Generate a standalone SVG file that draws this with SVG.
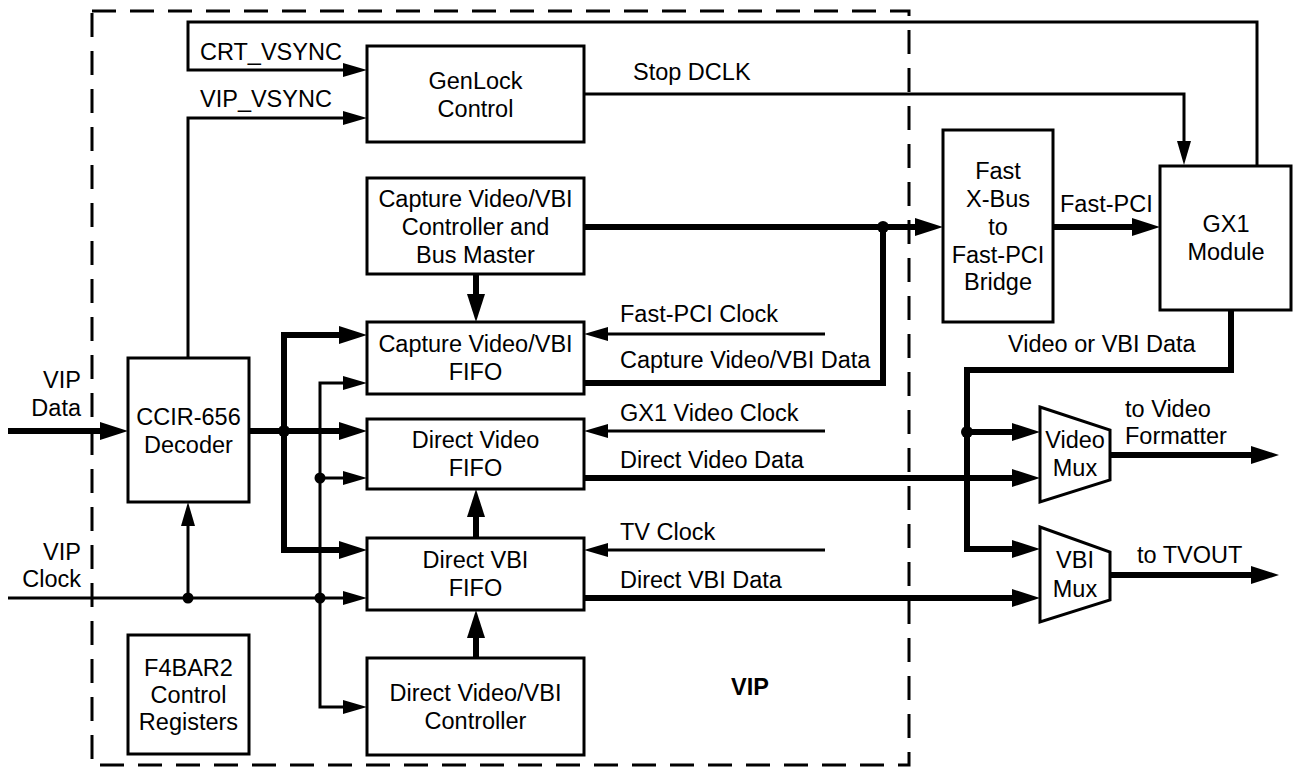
<svg xmlns="http://www.w3.org/2000/svg" width="1293" height="767" viewBox="0 0 1293 767">
<style>
text{font-family:"Liberation Sans",Arial,Helvetica,sans-serif;font-size:23.5px;fill:#000}
.c{text-anchor:middle}
.r{text-anchor:end}
.b{font-weight:bold}
.box{fill:#fff;stroke:#000;stroke-width:3}
.thin{fill:none;stroke:#000;stroke-width:3}
.thick{fill:none;stroke:#000;stroke-width:6}
.dash{fill:none;stroke:#000;stroke-width:3;stroke-dasharray:24 14}
</style>
<defs>
<marker id="at" markerUnits="userSpaceOnUse" markerWidth="24" markerHeight="14" refX="0" refY="7" orient="auto" overflow="visible"><path d="M0,0 L24,7 L0,14 z" fill="#000"/></marker>
<marker id="ak" markerUnits="userSpaceOnUse" markerWidth="28" markerHeight="18" refX="0" refY="9" orient="auto" overflow="visible"><path d="M0,0 L28,9 L0,18 z" fill="#000"/></marker>
</defs>
<rect fill="#fff" width="1293" height="767"/>
<rect id="vip-boundary" class="dash" x="92" y="11" width="817" height="754"/>
<text class="c b" x="750" y="695">VIP</text>

<g id="connectors">
<path class="thin" d="M1257,166 V22 H188 V70 H343" marker-end="url(#at)"/>
<path class="thin" d="M188,358 V118 H343" marker-end="url(#at)"/>
<path class="thin" d="M584,94 H1184 V141" marker-end="url(#at)"/>
<path class="thick" d="M584,227 H915" marker-end="url(#ak)"/>
<path class="thick" d="M584,383 H883 V227"/>
<path class="thick" d="M1053,227 H1132" marker-end="url(#ak)"/>
<path class="thick" d="M8,431 H100" marker-end="url(#ak)"/>
<path class="thick" d="M249,431 H339" marker-end="url(#ak)"/>
<path class="thick" d="M284,431 V335 H339" marker-end="url(#ak)"/>
<path class="thick" d="M284,431 V550 H339" marker-end="url(#ak)"/>
<path class="thin" d="M8,598 H343" marker-end="url(#at)"/>
<path class="thin" d="M188,598 V526" marker-end="url(#at)"/>
<path class="thin" d="M320,598 V383 H343" marker-end="url(#at)"/>
<path class="thin" d="M320,478 H343" marker-end="url(#at)"/>
<path class="thin" d="M320,598 V707 H343" marker-end="url(#at)"/>
<path class="thick" d="M476,274 V294" marker-end="url(#ak)"/>
<path class="thick" d="M476,538 V517" marker-end="url(#ak)"/>
<path class="thick" d="M476,658 V638" marker-end="url(#ak)"/>
<path class="thin" d="M825,334 H608" marker-end="url(#at)"/>
<path class="thin" d="M825,431 H608" marker-end="url(#at)"/>
<path class="thin" d="M825,550 H608" marker-end="url(#at)"/>
<path class="thick" d="M584,478 H1012" marker-end="url(#ak)"/>
<path class="thick" d="M584,598 H1012" marker-end="url(#ak)"/>
<path class="thick" d="M1231,310 V370 H967 V549 H1012" marker-end="url(#ak)"/>
<path class="thick" d="M967,432 H1012" marker-end="url(#ak)"/>
<path class="thick" d="M1110,455 H1251" marker-end="url(#ak)"/>
<path class="thick" d="M1110,575 H1251" marker-end="url(#ak)"/>
<circle cx="883" cy="227" r="6"/>
<circle cx="284" cy="431" r="6"/>
<circle cx="188" cy="598" r="5.5"/>
<circle cx="320" cy="598" r="5.5"/>
<circle cx="320" cy="478" r="5.5"/>
<circle cx="967" cy="432" r="6"/>
<text x="200" y="60">CRT_VSYNC</text>
<text x="200" y="107">VIP_VSYNC</text>
<text x="633" y="80">Stop DCLK</text>
<text x="1060" y="212">Fast-PCI</text>
<text x="620" y="322">Fast-PCI Clock</text>
<text x="620" y="368">Capture Video/VBI Data</text>
<text x="620" y="421">GX1 Video Clock</text>
<text x="620" y="468">Direct Video Data</text>
<text x="620" y="540">TV Clock</text>
<text x="620" y="588">Direct VBI Data</text>
<text x="1008" y="352">Video or VBI Data</text>
<text x="1125" y="417">to Video</text>
<text x="1125" y="444">Formatter</text>
<text x="1137" y="563">to TVOUT</text>
<text class="r" x="81" y="388">VIP</text>
<text class="r" x="81" y="416">Data</text>
<text class="r" x="81" y="560">VIP</text>
<text class="r" x="81" y="587">Clock</text>
</g>

<g id="genlock"><rect class="box" x="367" y="46" width="217" height="96"/><text class="c" x="475.5" y="89">GenLock</text><text class="c" x="475.5" y="117">Control</text></g>
<g id="capture-controller"><rect class="box" x="367" y="178" width="217" height="96"/><text class="c" x="475.5" y="207">Capture Video/VBI</text><text class="c" x="475.5" y="235">Controller and</text><text class="c" x="475.5" y="263">Bus Master</text></g>
<g id="capture-fifo"><rect class="box" x="367" y="322" width="217" height="72"/><text class="c" x="475.5" y="352">Capture Video/VBI</text><text class="c" x="475.5" y="380">FIFO</text></g>
<g id="direct-video-fifo"><rect class="box" x="367" y="419" width="217" height="70"/><text class="c" x="475.5" y="448">Direct Video</text><text class="c" x="475.5" y="476">FIFO</text></g>
<g id="direct-vbi-fifo"><rect class="box" x="367" y="538" width="217" height="72"/><text class="c" x="475.5" y="568">Direct VBI</text><text class="c" x="475.5" y="596">FIFO</text></g>
<g id="direct-controller"><rect class="box" x="367" y="658" width="217" height="97"/><text class="c" x="475.5" y="701">Direct Video/VBI</text><text class="c" x="475.5" y="729">Controller</text></g>
<g id="ccir-decoder"><rect class="box" x="128" y="358" width="121" height="144"/><text class="c" x="188.5" y="425">CCIR-656</text><text class="c" x="188.5" y="453">Decoder</text></g>
<g id="f4bar2"><rect class="box" x="128" y="635" width="121" height="119"/><text class="c" x="188.5" y="676">F4BAR2</text><text class="c" x="188.5" y="703">Control</text><text class="c" x="188.5" y="730">Registers</text></g>
<g id="bridge"><rect class="box" x="943" y="130" width="110" height="192"/><text class="c" x="998" y="179">Fast</text><text class="c" x="998" y="207">X-Bus</text><text class="c" x="998" y="235">to</text><text class="c" x="998" y="263">Fast-PCI</text><text class="c" x="998" y="290">Bridge</text></g>
<g id="gx1"><rect class="box" x="1160" y="166" width="131" height="144"/><text class="c" x="1226" y="232">GX1</text><text class="c" x="1226" y="260">Module</text></g>
<g id="video-mux"><path class="box" d="M1040,407 L1110,430 V480 L1040,502 z"/><text class="c" x="1075" y="448">Video</text><text class="c" x="1075" y="476">Mux</text></g>
<g id="vbi-mux"><path class="box" d="M1040,527 L1110,552 V600 L1040,622 z"/><text class="c" x="1075" y="568">VBI</text><text class="c" x="1075" y="597">Mux</text></g>
</svg>
